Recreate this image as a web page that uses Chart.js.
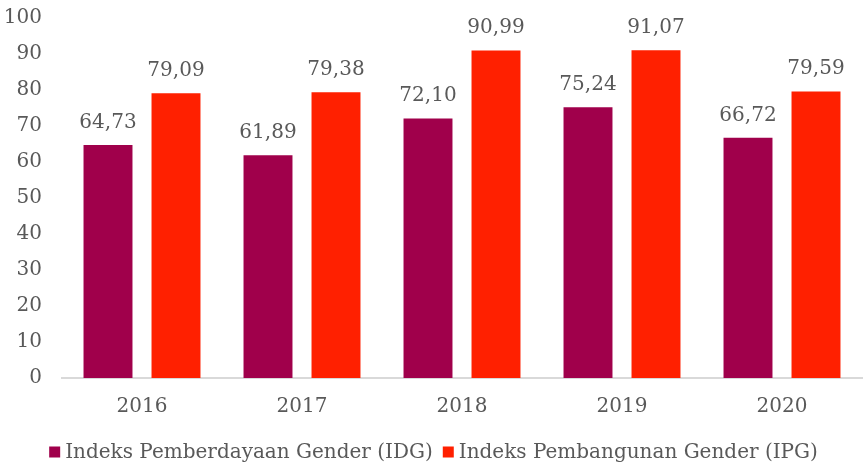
<!DOCTYPE html>
<html>
<head>
<meta charset="utf-8">
<script src="https://cdn.jsdelivr.net/npm/chart.js@4/dist/chart.umd.min.js"></script>
<style>
  html, body { margin: 0; padding: 0; background: #ffffff; }
  #wrap { width: 863px; height: 463px; }
</style>
</head>
<body>
<div id="wrap"><canvas id="c" width="863" height="463"></canvas></div>
<script>
const years = ['2016', '2017', '2018', '2019', '2020'];
const idgValues = [64.73, 61.89, 72.10, 75.24, 66.72];
const ipgValues = [79.09, 79.38, 90.99, 91.07, 79.59];
const idgLabel = 'Indeks Pemberdayaan Gender (IDG)';
const ipgLabel = 'Indeks Pembangunan Gender (IPG)';

const textColor = '#595959';
const fontFamily = '"DejaVu Serif", serif';
const fontSize = 20;

// Writes each bar's value (comma decimal) just above its top
const valueLabels = {
  id: 'valueLabels',
  afterDatasetsDraw(chart) {
    const ctx = chart.ctx;
    ctx.save();
    ctx.fillStyle = textColor;
    ctx.font = fontSize + 'px ' + fontFamily;
    ctx.textAlign = 'center';
    ctx.textBaseline = 'alphabetic';
    chart.data.datasets.forEach((ds, i) => {
      chart.getDatasetMeta(i).data.forEach((bar, j) => {
        const txt = ds.data[j].toFixed(2).replace('.', ',');
        ctx.fillText(txt, bar.x, bar.y - 17);
      });
    });
    ctx.restore();
  }
};

// Compact legend row under the axis: small square, then the series name
const bottomLegend = {
  id: 'bottomLegend',
  afterDraw(chart) {
    const ctx = chart.ctx;
    ctx.save();
    ctx.font = fontSize + 'px ' + fontFamily;
    ctx.textBaseline = 'middle';
    ctx.textAlign = 'left';
    const box = 11, gapText = 5, gapItem = 10;
    const items = chart.data.datasets.map(ds => ({
      text: ds.label, color: ds.backgroundColor,
      w: box + gapText + ctx.measureText(ds.label).width
    }));
    const total = items.reduce((s, it) => s + it.w, 0) + gapItem * (items.length - 1);
    let x = (chart.width - total) / 2 + 2;
    const y = 452;
    items.forEach(it => {
      ctx.fillStyle = it.color;
      ctx.fillRect(x, y - box / 2, box, box);
      ctx.fillStyle = textColor;
      ctx.fillText(it.text, x + box + gapText, y + 1);
      x += it.w + gapItem;
    });
    ctx.restore();
  }
};

new Chart(document.getElementById('c'), {
  type: 'bar',
  data: {
    labels: years,
    datasets: [
      { label: idgLabel, data: idgValues, backgroundColor: '#A0004B',
        categoryPercentage: 0.85, barPercentage: 0.72 },
      { label: ipgLabel, data: ipgValues, backgroundColor: '#FF2000',
        categoryPercentage: 0.85, barPercentage: 0.72 }
    ]
  },
  options: {
    responsive: false,
    animation: false,
    layout: { padding: { left: 0, right: 1, top: 18, bottom: 43 } },
    scales: {
      x: {
        grid: { display: false },
        border: { color: '#d9d9d9', width: 2 },
        ticks: { color: textColor, font: { family: fontFamily, size: fontSize }, padding: 9 },
        afterFit(scale) { scale.height = 42; }
      },
      y: {
        min: 0, max: 100,
        grid: { display: false },
        border: { display: false },
        ticks: { stepSize: 10, color: textColor, font: { family: fontFamily, size: fontSize }, padding: 12 },
        afterFit(scale) { scale.width = 62; scale.paddingTop = 0; scale.paddingBottom = 0; }
      }
    },
    plugins: {
      legend: { display: false },
      tooltip: { enabled: false }
    }
  },
  plugins: [valueLabels, bottomLegend]
});
</script>
</body>
</html>
